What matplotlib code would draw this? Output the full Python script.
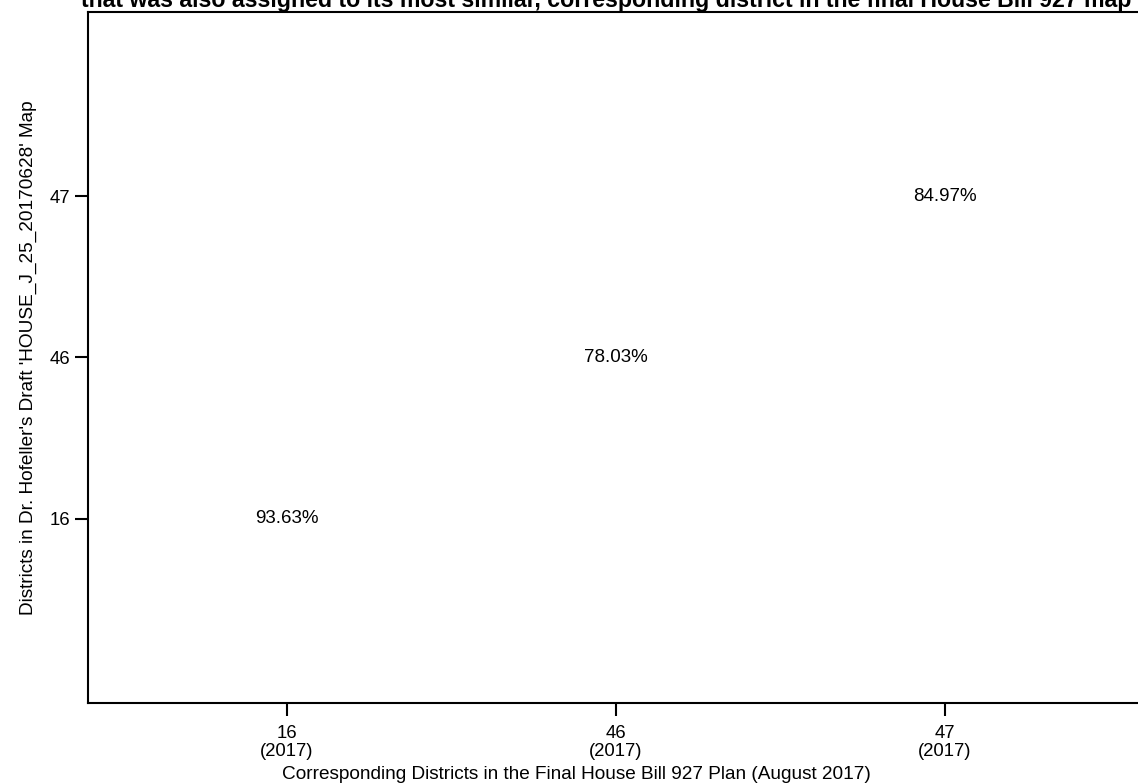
"""Share of each draft district also assigned to its matching final district"""
import matplotlib
matplotlib.use('Agg')
import matplotlib.pyplot as plt

# final HB927 districts (x) vs Hofeller draft districts (y)
final_districts = ["16", "46", "47"]
final_years = ["2017", "2017", "2017"]
draft_districts = ["16", "46", "47"]
shares = [93.63, 78.03, 84.97]

plt.rcParams['font.family'] = ['Liberation Sans', 'DejaVu Sans']

fig = plt.figure(figsize=(11.38, 7.83), dpi=100)
ax = fig.add_axes([0.0773, 0.1022, 0.928, 0.8825])

xpos = list(range(len(final_districts)))
ypos = list(range(len(draft_districts)))
for i, val in enumerate(shares):
    ax.text(xpos[i], ypos[i], "%.2f%%" % val, ha='center', va='center', fontsize=13.5)

ax.set_xlim(-0.605, len(final_districts) - 1 + 0.605)
ax.set_ylim(-1.145, len(draft_districts) - 1 + 1.145)
ax.set_xticks(xpos)
ax.set_xticklabels(["%s\n(%s)" % (d, y) for d, y in zip(final_districts, final_years)],
                   fontsize=13.3, linespacing=1.15)
ax.set_yticks(ypos)
ax.set_yticklabels(draft_districts, fontsize=13.3)
ax.tick_params(length=9.5, width=1.5, pad=3)
ax.tick_params(axis='x', pad=6)
for side in ['left', 'bottom', 'top']:
    ax.spines[side].set_linewidth(1.5)
ax.spines['right'].set_visible(False)

ax.set_xlabel("Corresponding Districts in the Final House Bill 927 Plan (August 2017)", fontsize=13.7)
ax.xaxis.set_label_coords(0.4626, -0.091)
ax.set_ylabel("Districts in Dr. Hofeller's Draft 'HOUSE_J_25_20170628' Map", fontsize=13.7)
ax.yaxis.set_label_coords(-0.048, 0.5)

ax.text(0.491, 1.0, "that was also assigned to its most similar, corresponding district in the final House Bill 927 map",
        transform=ax.transAxes, ha='center', va='bottom', fontsize=16.7, fontweight='bold')

fig.savefig("out.png", dpi=100)
